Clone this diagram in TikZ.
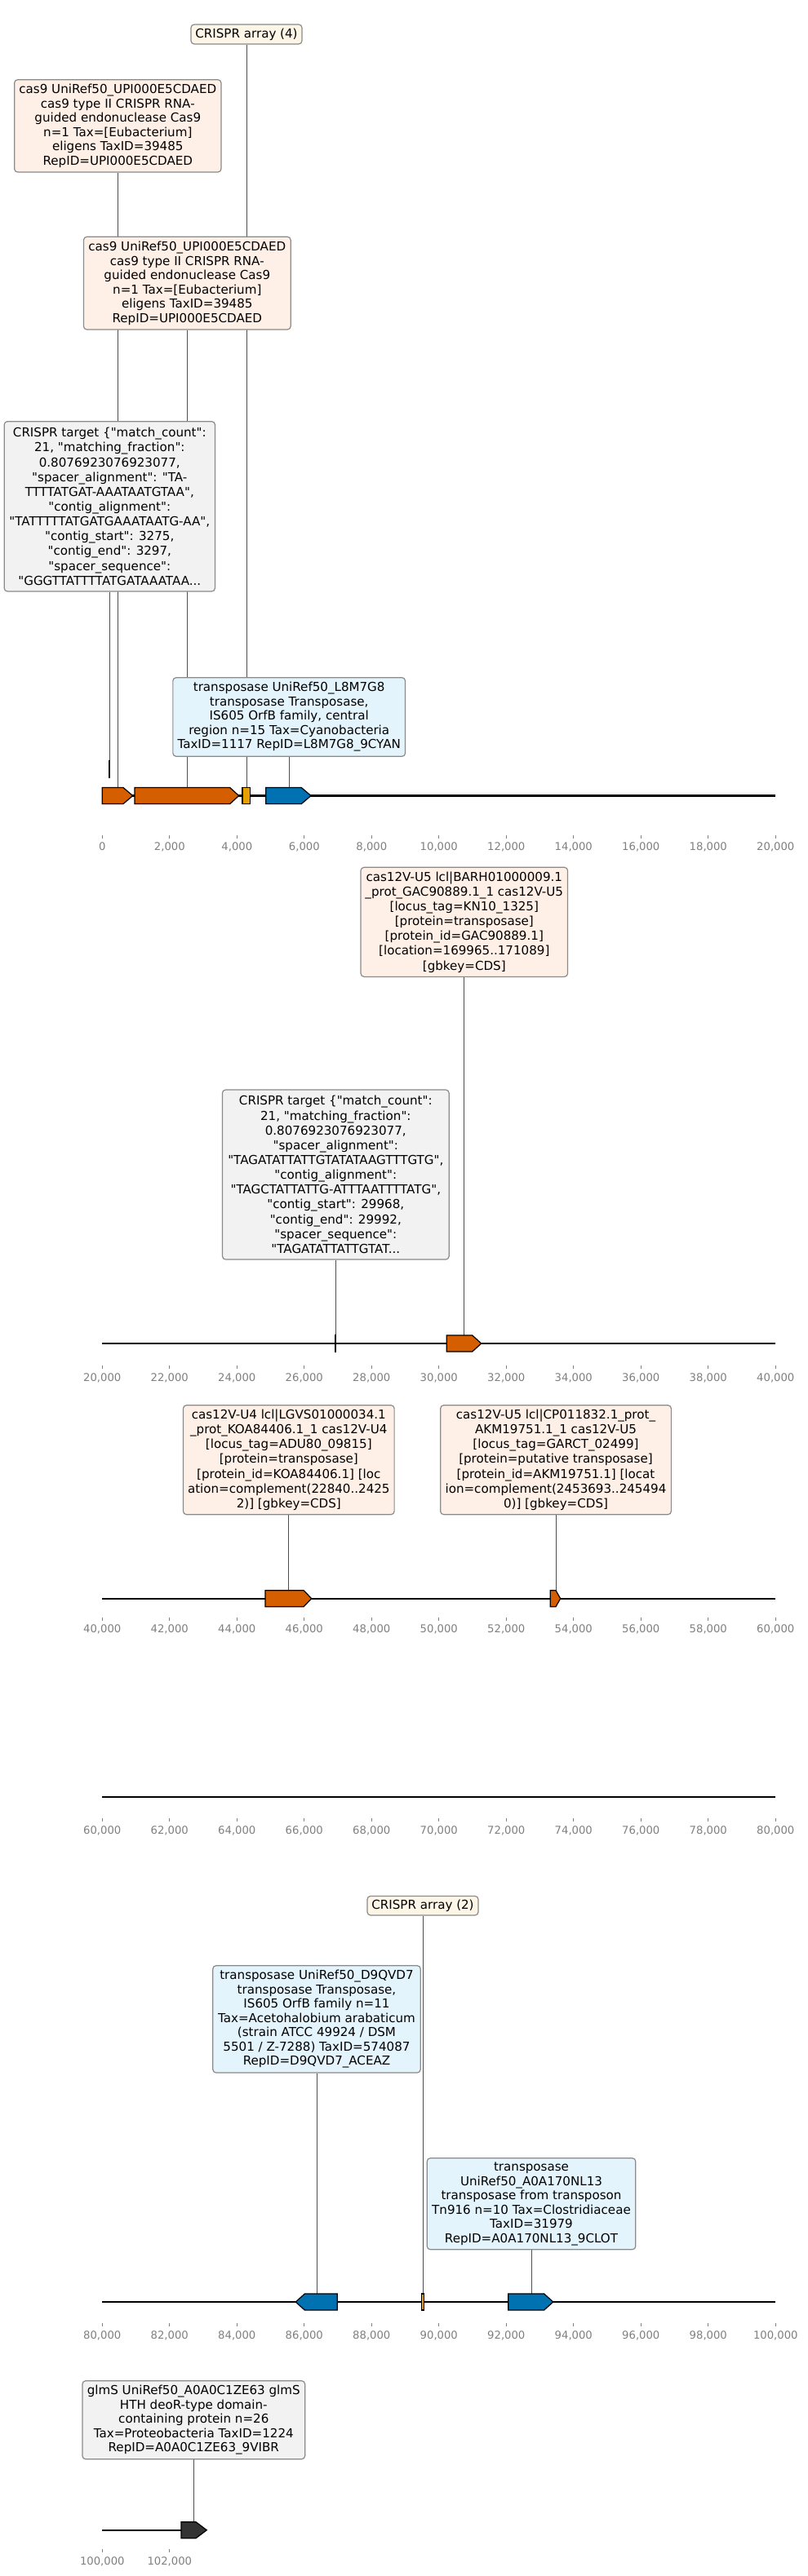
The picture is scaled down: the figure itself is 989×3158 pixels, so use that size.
\documentclass[tikz,border=0pt]{standalone}
\usepackage{fontspec}
\setmainfont{DejaVu Sans}[Ligatures=TeXOff]
\usetikzlibrary{backgrounds}
\definecolor{cOrange}{HTML}{D55E00}
\definecolor{cYellow}{HTML}{E69F00}
\definecolor{cBlue}{HTML}{0072B2}
\definecolor{cDark}{HTML}{333333}
\definecolor{fPeach}{HTML}{FEF0E6}
\definecolor{fCream}{HTML}{FDF6E7}
\definecolor{fGray}{HTML}{F2F2F2}
\definecolor{fBlue}{HTML}{E4F4FC}
\definecolor{bord}{HTML}{8A8A8A}
\definecolor{connc}{HTML}{4D4D4D}
\definecolor{tickc}{HTML}{808080}
\tikzset{
  lbl/.style={draw=bord, line width=1.2pt, rounded corners=4pt, align=center, inner sep=0pt, text=black, font=\fontsize{15.1}{17.5}\selectfont},
  tall/.style={font=\fontsize{15.1}{18.15}\selectfont},
  peach/.style={lbl, fill=fPeach},
  cream/.style={lbl, fill=fCream},
  greybox/.style={lbl, fill=fGray},
  bluebox/.style={lbl, fill=fBlue},
  connline/.style={draw=connc, line width=1pt},
  featline/.style={draw=black, line width=1.2pt, line join=miter},
  seqline/.style={draw=black, line width=2.4pt},
  tickmark/.style={draw=tickc, line width=0.9pt},
  ticklbl/.style={text=tickc, inner sep=0pt, text height=9.6pt, text depth=0pt, font=\fontsize{13.2}{15}\selectfont},
}
\newcommand\featF[5]{\filldraw[featline, fill=#5] (#1,#4-10) -- (#2,#4-10) -- (#3,#4) -- (#2,#4+10) -- (#1,#4+10) -- cycle;}
\newcommand\featR[5]{\filldraw[featline, fill=#5] (#1,#4) -- (#2,#4-10) -- (#3,#4-10) -- (#3,#4+10) -- (#2,#4+10) -- cycle;}
\newcommand\featB[4]{\filldraw[featline, fill=#4] (#1,#3-10) rectangle (#2,#3+10);}
\newcommand\axisrow[4]{%
  \foreach \lab [count=\i from 0] in {#3} {%
    \draw[tickmark] ({125.3+82.5*\i},#1) -- ++(0,4);
    \node[ticklbl] (#4-\i) at ({125.3+82.5*\i},#2) {\lab};
  }}
\begin{document}
\begin{tikzpicture}[x=1pt, y=-1pt]
\begin{scope}[on background layer]
  \fill[white] (0,0) rectangle (989,3158);
\end{scope}
\useasboundingbox (0,0) rectangle (989,3158);

% ---------------- Row 1 ----------------
\draw[seqline] (125.3,975.5) -- (950.3,975.5);
\featF{125.3}{151}{162.7}{975.5}{cOrange}
\featF{165}{281.7}{292.7}{975.5}{cOrange}
\featB{297}{306.7}{975.5}{cYellow}
\featF{325.7}{369.3}{381}{975.5}{cBlue}
\featB{133.8}{134.8}{943}{black}
\coordinate (fA) at (144.3,965.5);
\coordinate (fB) at (229.3,965.5);
\coordinate (fC) at (302,965.5);
\coordinate (fD) at (354.2,965.5);
\coordinate (fT1) at (134.3,933);
\axisrow{1024}{1038}{0,{2,000},{4,000},{6,000},{8,000},{10,000},{12,000},{14,000},{16,000},{18,000},{20,000}}{ra}

\node[cream, minimum width=136pt, minimum height=24pt] (arr4) at (302,42) {CRISPR array (4)};
\node[peach, minimum width=253.3pt, minimum height=113.3pt] (cas9a) at (144.3,154.35)
  {cas9 UniRef50\_UPI000E5CDAED\\cas9 type II CRISPR RNA-\\guided endonuclease Cas9\\n=1 Tax=[Eubacterium]\\eligens TaxID=39485\\RepID=UPI000E5CDAED};
\node[peach, minimum width=253.7pt, minimum height=113.7pt] (cas9b) at (229.3,347.15)
  {cas9 UniRef50\_UPI000E5CDAED\\cas9 type II CRISPR RNA-\\guided endonuclease Cas9\\n=1 Tax=[Eubacterium]\\eligens TaxID=39485\\RepID=UPI000E5CDAED};
\node[greybox, tall, minimum width=258.3pt, minimum height=208.3pt] (tgt1) at (134.3,620.85)
  {CRISPR target \{"match\_count":\\21, "matching\_fraction":\\0.8076923076923077,\\"spacer\_alignment": "TA-\\TTTTATGAT-AAATAATGTAA",\\"contig\_alignment":\\"TATTTTTATGATGAAATAATG-AA",\\"contig\_start": 3275,\\"contig\_end": 3297,\\"spacer\_sequence":\\"GGGTTATTTTATGATAAATAA...};
\node[bluebox, minimum width=284.7pt, minimum height=96.6pt] (tr1) at (354.2,879)
  {transposase UniRef50\_L8M7G8\\transposase Transposase,\\IS605 OrfB family, central\\region n=15 Tax=Cyanobacteria\\TaxID=1117 RepID=L8M7G8\_9CYAN};

% ---------------- Row 2 ----------------
\draw[seqline] (125.3,1647) -- (950.3,1647);
\featB{410.8}{411.8}{1647}{black}
\featF{547.3}{578.7}{589.7}{1647}{cOrange}
\coordinate (fT2) at (411.3,1637);
\coordinate (fE) at (568.8,1637);
\axisrow{1674}{1689}{{20,000},{22,000},{24,000},{26,000},{28,000},{30,000},{32,000},{34,000},{36,000},{38,000},{40,000}}{rb}

\node[peach, tall, minimum width=253.5pt, minimum height=134.1pt] (c12a) at (568.8,1130.35)
  {cas12V-U5 lcl|BARH01000009.1\\\_prot\_GAC90889.1\_1 cas12V-U5\\{}[locus\_tag=KN10\_1325]\\{}[protein=transposase]\\{}[protein\_id=GAC90889.1]\\{}[location=169965..171089]\\{}[gbkey=CDS]};
\node[greybox, tall, minimum width=277.7pt, minimum height=208pt] (tgt2) at (411.3,1440)
  {CRISPR target \{"match\_count":\\21, "matching\_fraction":\\0.8076923076923077,\\"spacer\_alignment":\\"TAGATATTATTGTATATAAGTTTGTG",\\"contig\_alignment":\\"TAGCTATTATTG-ATTTAATTTTATG",\\"contig\_start": 29968,\\"contig\_end": 29992,\\"spacer\_sequence":\\"TAGATATTATTGTAT...};

% ---------------- Row 3 ----------------
\draw[seqline] (125.3,1959.7) -- (950.3,1959.7);
\featF{325}{372.1}{381.7}{1959.7}{cOrange}
\featF{674.3}{681}{686.7}{1959.7}{cOrange}
\coordinate (fF) at (353.8,1949.7);
\coordinate (fG) at (681,1949.7);
\axisrow{1982.7}{1996.7}{{40,000},{42,000},{44,000},{46,000},{48,000},{50,000},{52,000},{54,000},{56,000},{58,000},{60,000}}{rc}

\node[peach, tall, minimum width=258.6pt, minimum height=134pt] (c12b) at (353.8,1789.7)
  {cas12V-U4 lcl|LGVS01000034.1\\\_prot\_KOA84406.1\_1 cas12V-U4\\{}[locus\_tag=ADU80\_09815]\\{}[protein=transposase]\\{}[protein\_id=KOA84406.1] [loc\\ation=complement(22840..2425\\2)] [gbkey=CDS]};
\node[peach, tall, minimum width=282.7pt, minimum height=134pt] (c12c) at (681,1789.7)
  {cas12V-U5 lcl|CP011832.1\_prot\_\\AKM19751.1\_1 cas12V-U5\\{}[locus\_tag=GARCT\_02499]\\{}[protein=putative transposase]\\{}[protein\_id=AKM19751.1] [locat\\ion=complement(2453693..245494\\0)] [gbkey=CDS]};

% ---------------- Row 4 ----------------
\draw[seqline] (125.3,2202.7) -- (950.3,2202.7);
\axisrow{2228.7}{2243.3}{{60,000},{62,000},{64,000},{66,000},{68,000},{70,000},{72,000},{74,000},{76,000},{78,000},{80,000}}{rd}

% ---------------- Row 5 ----------------
\draw[seqline] (125.3,2822) -- (950.3,2822);
\featR{362.3}{373.3}{413.3}{2822}{cBlue}
\featB{516.3}{519.7}{2822}{cYellow}
\featF{622.7}{666.7}{677.7}{2822}{cBlue}
\coordinate (fH) at (388,2812);
\coordinate (fI) at (518,2812);
\coordinate (fJ) at (651,2812);
\axisrow{2848}{2863}{{80,000},{82,000},{84,000},{86,000},{88,000},{90,000},{92,000},{94,000},{96,000},{98,000},{100,000}}{re}

\node[cream, minimum width=136pt, minimum height=23.5pt] (arr2) at (518,2336.2) {CRISPR array (2)};
\node[bluebox, minimum width=254.4pt, minimum height=131.3pt] (tr2) at (388,2475.35)
  {transposase UniRef50\_D9QVD7\\transposase Transposase,\\IS605 OrfB family n=11\\Tax=Acetohalobium arabaticum\\(strain ATCC 49924 / DSM\\5501 / Z-7288) TaxID=574087\\RepID=D9QVD7\_ACEAZ};
\node[bluebox, minimum width=255.6pt, minimum height=112pt] (tr3) at (651,2701.7)
  {transposase\\UniRef50\_A0A170NL13\\transposase from transposon\\Tn916 n=10 Tax=Clostridiaceae\\TaxID=31979\\RepID=A0A170NL13\_9CLOT};

% ---------------- Row 6 ----------------
\draw[seqline] (125.3,3101.7) -- (222,3101.7);
\featF{222}{240}{253.3}{3101.7}{cDark}
\coordinate (fK) at (237.3,3091.7);
\axisrow{3125}{3140}{{100,000},{102,000}}{rf}

\node[greybox, minimum width=272.7pt, minimum height=96pt] (glms) at (237.3,2966.7)
  {glmS UniRef50\_A0A0C1ZE63 glmS\\HTH deoR-type domain-\\containing protein n=26\\Tax=Proteobacteria TaxID=1224\\RepID=A0A0C1ZE63\_9VIBR};

% ---------------- connectors ----------------
\begin{scope}[on background layer]
  \draw[connline] (arr4.south) -- (fC);
  \draw[connline] (cas9a.south) -- (fA);
  \draw[connline] (cas9b.south) -- (fB);
  \draw[connline] (tgt1.south) -- (fT1);
  \draw[connline] (tr1.south) -- (fD);
  \draw[connline] (c12a.south) -- (fE);
  \draw[connline] (tgt2.south) -- (fT2);
  \draw[connline] (c12b.south) -- (fF);
  \draw[connline] (c12c.south) -- (fG);
  \draw[connline] (arr2.south) -- (fI);
  \draw[connline] (tr2.south) -- (fH);
  \draw[connline] (tr3.south) -- (fJ);
  \draw[connline] (glms.south) -- (fK);
\end{scope}
\end{tikzpicture}
\end{document}
